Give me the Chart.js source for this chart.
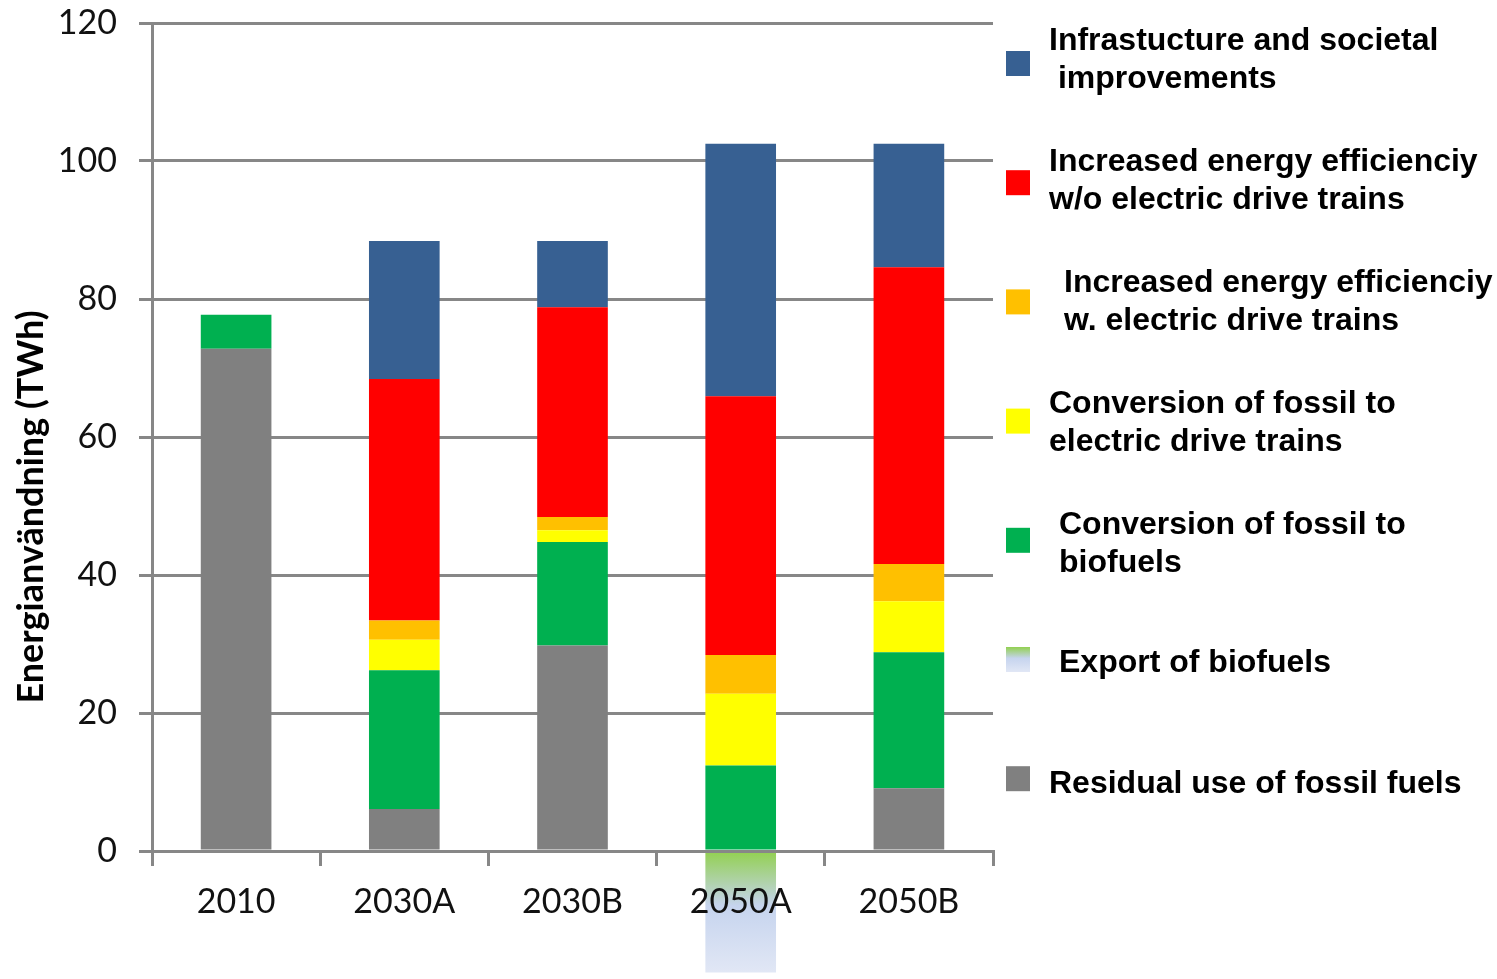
<!DOCTYPE html>
<html>
<head>
<meta charset="utf-8">
<script src="https://cdn.jsdelivr.net/npm/chart.js@4.4.1/dist/chart.umd.min.js"></script>
<style>
  html, body { margin: 0; padding: 0; background: #fff; }
  canvas { display: block; }
</style>
</head>
<body>
<canvas id="chart" width="1497" height="979"></canvas>
<script>
// values (TWh)
const categories = ["2010", "2030A", "2030B", "2050A", "2050B"];
const residualFossil = [72.8, 6.1, 29.8, 0, 9.1];
const fossilToBiofuels = [4.9, 20.1, 15.0, 12.4, 19.7];
const fossilToElectric = [0, 4.4, 1.7, 10.4, 7.4];
const efficiencyWithElectric = [0, 2.8, 1.9, 5.6, 5.4];
const efficiencyWithoutElectric = [0, 35.0, 30.4, 37.5, 43.0];
const infrastructure = [0, 20.0, 9.6, 36.6, 17.9];
const biofuelExport = [0, 0, 0, -17.6, 0];
const yTicks = [0, 20, 40, 60, 80, 100, 120];

const legendLabels = [
  ["Infrastucture and societal", " improvements"],
  ["Increased energy efficienciy", "w/o electric drive trains"],
  ["Increased energy efficienciy", "w. electric drive trains"],
  ["Conversion of fossil to", "electric drive trains"],
  ["Conversion of fossil to", "biofuels"],
  ["Export of biofuels"],
  ["Residual use of fossil fuels"],
];

const exportStops = [[0, "#92D050"], [0.45, "#C6D4EE"], [1, "#E1E7F5"]];

const makeGradient = (ctx, top, bottom) => {
  const g = ctx.createLinearGradient(0, top, 0, bottom);
  exportStops.forEach(([at, c]) => g.addColorStop(at, c));
  return g;
};

// gradient fill for the export bar, follows the y scale
const exportFill = (context) => {
  const { chart } = context;
  if (!chart.chartArea) return exportStops[0][1];
  const y = chart.scales.y;
  return makeGradient(chart.ctx, y.getPixelForValue(0), y.getPixelForValue(Math.min(...biofuelExport)));
};

// datasets bottom to top; legend index points into legendLabels
const datasets = [
  { data: residualFossil, backgroundColor: "#808080", legend: 6 },
  { data: fossilToBiofuels, backgroundColor: "#00B050", legend: 4 },
  { data: fossilToElectric, backgroundColor: "#FFFF00", legend: 3 },
  { data: efficiencyWithElectric, backgroundColor: "#FFC000", legend: 2 },
  { data: efficiencyWithoutElectric, backgroundColor: "#FF0000", legend: 1 },
  { data: infrastructure, backgroundColor: "#376092", legend: 0 },
  { data: biofuelExport, backgroundColor: exportFill, legend: 5, clip: false },
].map((d) => ({ ...d, label: legendLabels[d.legend].join(" ").trim(), borderWidth: 0 }));

// draws the y title and the legend on the right
const sidePanel = {
  id: "sidePanel",
  afterDraw(chart, args, o) {
    const { ctx } = chart;
    ctx.save();
    ctx.fillStyle = "#000";
    ctx.font = "bold 36px Lato";
    ctx.translate(o.titleX, o.titleY);
    ctx.rotate(-Math.PI / 2);
    ctx.textAlign = "center";
    ctx.textBaseline = "alphabetic";
    ctx.fillText(o.title, 0, 0);
    ctx.restore();

    ctx.save();
    ctx.font = 'bold 32px "Liberation Sans", Arial';
    ctx.textBaseline = "alphabetic";
    legendLabels.forEach((lines, i) => {
      const ds = chart.data.datasets.find((d) => d.legend === i);
      const boxY = o.boxTop + i * o.boxStep;
      ctx.fillStyle = typeof ds.backgroundColor === "function"
        ? makeGradient(ctx, boxY, boxY + o.boxH)
        : ds.backgroundColor;
      ctx.fillRect(o.boxX, boxY, o.boxW, o.boxH);
      const base = o.textTop + i * o.textStep + (lines.length === 1 ? o.singleShift : 0);
      ctx.fillStyle = "#000";
      lines.forEach((ln, j) => ctx.fillText(ln, o.textX + o.indent[i], base + j * o.lineGap));
    });
    ctx.restore();
  },
};

const gridGrey = "#878787";

new Chart(document.getElementById("chart"), {
  type: "bar",
  data: { labels: categories, datasets },
  plugins: [sidePanel],
  options: {
    responsive: false,
    devicePixelRatio: 1,
    animation: false,
    layout: { padding: { top: 23, right: 504, left: 0, bottom: 0 } },
    datasets: { bar: { barPercentage: 0.42, categoryPercentage: 1 } },
    plugins: {
      legend: { display: false },
      tooltip: { enabled: false },
      sidePanel: {
        title: "Energianvändning (TWh)",
        titleX: 43,
        titleY: 507,
        boxX: 1006,
        boxW: 24,
        boxH: 25,
        boxTop: 51,
        boxStep: 119.2,
        textX: 1049,
        indent: [0, 0, 15, 0, 10, 10, 0],
        textTop: 50,
        textStep: 121,
        singleShift: 17,
        lineGap: 38,
      },
    },
    scales: {
      x: {
        stacked: true,
        grid: { display: true, drawOnChartArea: false, drawTicks: true, tickLength: 15, color: gridGrey, lineWidth: 3, offset: true },
        border: { display: true, color: gridGrey, width: 3, z: 1 },
        ticks: { color: "#111", font: { family: "Lato", size: 34 }, padding: 16, z: 1 },
        afterFit: (s) => { s.height = 128; },
      },
      y: {
        stacked: true,
        min: yTicks[0],
        max: yTicks[yTicks.length - 1],
        grid: { color: gridGrey, lineWidth: 3, tickLength: 13 },
        border: { display: true, color: gridGrey, width: 3 },
        ticks: { stepSize: yTicks[1] - yTicks[0], color: "#111", font: { family: "Lato", size: 34 }, padding: 22 },
        afterFit: (s) => {
          s.width = 152;
          s.paddingTop = 0;
          s.paddingBottom = 0;
        },
      },
    },
  },
});
</script>
</body>
</html>
